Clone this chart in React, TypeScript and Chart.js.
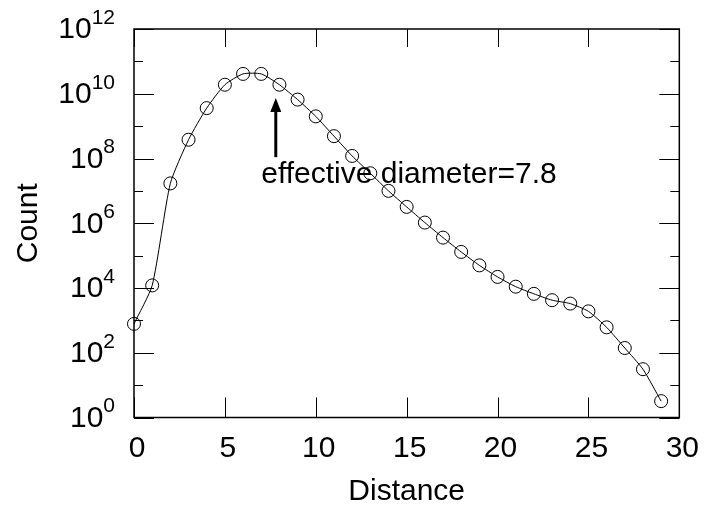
import React, { useEffect, useRef } from "react";
import { Chart, registerables } from "chart.js";

Chart.register(...registerables);

// ---- data ----
const distances = [0, 1, 2, 3, 4, 5, 6, 7, 8, 9, 10, 11, 12, 13, 14, 15, 16, 17, 18, 19, 20, 21, 22, 23, 24, 25, 26, 27, 28, 29];
const counts = [
  7.8e2, 1.2e4, 1.7e7, 3.8e8, 3.6e9, 1.9e10, 4.1e10, 4.1e10, 1.9e10, 6.6e9,
  2.0e9, 4.9e8, 1.2e8, 3.5e7, 1.0e7, 3.2e6, 1.05e6, 3.6e5, 1.3e5, 5.0e4,
  2.2e4, 1.1e4, 6.6e3, 4.2e3, 3.3e3, 1.9e3, 6.1e2, 1.4e2, 31, 3.2,
];
const xTicks = [0, 5, 10, 15, 20, 25, 30];
const yLabelExponents = [0, 2, 4, 6, 8, 10, 12];
const yAllExponents = [0, 1, 2, 3, 4, 5, 6, 7, 8, 9, 10, 11, 12];
const xTitle = "Distance";
const yTitle = "Count";
const annotationText = "effective diameter=7.8";
const arrowX = 7.8;
const arrowTip = 7.4e9;
const arrowTail = 1.1e8;
const textX = 7.0;
const textY = 1.75e7;

const FONT = "'Liberation Sans', Arial, Helvetica, sans-serif";
const FS = 30;
const SUP = 21;

const decorPlugin = {
  id: "decor",
  afterDraw(chart: any) {
    const { ctx, chartArea } = chart;
    const xs = chart.scales.x;
    const ys = chart.scales.y;
    ctx.save();
    ctx.strokeStyle = "#000";
    ctx.fillStyle = "#000";
    // frame
    ctx.lineWidth = 1.5;
    ctx.strokeRect(chartArea.left, chartArea.top, chartArea.right - chartArea.left, chartArea.bottom - chartArea.top);
    // y ticks (inside, both sides)
    ctx.lineWidth = 1;
    yAllExponents.forEach((e) => {
      const py = Math.round(ys.getPixelForValue(Math.pow(10, e))) + 0.5;
      const len = e % 2 === 0 ? 20 : 9;
      ctx.beginPath();
      ctx.moveTo(chartArea.left, py);
      ctx.lineTo(chartArea.left + len, py);
      ctx.moveTo(chartArea.right, py);
      ctx.lineTo(chartArea.right - len, py);
      ctx.stroke();
    });
    // x ticks (inside, top & bottom)
    xTicks.forEach((v) => {
      const px = Math.round(xs.getPixelForValue(v)) + 0.5;
      ctx.beginPath();
      ctx.moveTo(px, chartArea.bottom);
      ctx.lineTo(px, chartArea.bottom - 20);
      ctx.moveTo(px, chartArea.top);
      ctx.lineTo(px, chartArea.top + 18);
      ctx.stroke();
    });
    // y tick labels 10^n
    const rightEdge = chartArea.left - 19;
    yLabelExponents.forEach((e) => {
      const py = ys.getPixelForValue(Math.pow(10, e));
      const expStr = String(e);
      ctx.font = `${SUP}px ${FONT}`;
      const ew = ctx.measureText(expStr).width;
      ctx.textAlign = "left";
      ctx.textBaseline = "middle";
      ctx.fillText(expStr, rightEdge - ew, py - 11);
      ctx.font = `${FS}px ${FONT}`;
      ctx.textAlign = "right";
      ctx.fillText("10", rightEdge - ew, py + 1);
    });
    // annotation arrow
    const ax = xs.getPixelForValue(arrowX);
    const tipY = ys.getPixelForValue(arrowTip);
    const tailY = ys.getPixelForValue(arrowTail);
    ctx.lineWidth = 3;
    ctx.beginPath();
    ctx.moveTo(ax, tailY);
    ctx.lineTo(ax, tipY + 10);
    ctx.stroke();
    ctx.beginPath();
    ctx.moveTo(ax, tipY);
    ctx.lineTo(ax - 5.5, tipY + 14);
    ctx.lineTo(ax + 5.5, tipY + 14);
    ctx.closePath();
    ctx.fill();
    // annotation text
    ctx.font = `${FS}px ${FONT}`;
    ctx.textAlign = "left";
    ctx.textBaseline = "alphabetic";
    ctx.fillText(annotationText, xs.getPixelForValue(textX), ys.getPixelForValue(textY));
    ctx.restore();
  },
};

export default function App() {
  const ref = useRef<HTMLCanvasElement | null>(null);
  useEffect(() => {
    if (!ref.current) return;
    const chart = new Chart(ref.current, {
      type: "line",
      data: {
        datasets: [
          {
            data: distances.map((x, i) => ({ x, y: counts[i] })),
            borderColor: "#000",
            borderWidth: 1,
            pointRadius: 6.5,
            pointHoverRadius: 6.5,
            pointStyle: "circle",
            pointBackgroundColor: "rgba(0,0,0,0)",
            pointBorderColor: "#000",
            pointBorderWidth: 1,
            tension: 0.2,
            fill: false,
            clip: false as any,
          },
        ],
      },
      options: {
        animation: false,
        responsive: false,
        devicePixelRatio: 1,
        layout: { padding: { top: 29, right: 25, left: 0, bottom: 0 } },
        plugins: { legend: { display: false }, tooltip: { enabled: false } },
        scales: {
          x: {
            type: "linear",
            min: 0,
            max: 30,
            afterBuildTicks: (s: any) => {
              s.ticks = xTicks.map((v) => ({ value: v }));
            },
            afterFit: (s: any) => {
              s.height = 92.5;
            },
            grid: { display: false, drawTicks: false },
            border: { display: false },
            ticks: {
              color: "#000",
              font: { family: FONT, size: FS },
              padding: 13,
              labelOffset: 3,
              maxRotation: 0,
              autoSkip: false,
            },
            title: {
              display: true,
              text: xTitle,
              color: "#000",
              font: { family: FONT, size: FS },
              padding: { top: 0, bottom: 0 },
            },
          },
          y: {
            type: "logarithmic",
            min: 1,
            max: 1e12,
            afterFit: (s: any) => {
              s.width = 134;
            },
            grid: { display: false, drawTicks: false },
            border: { display: false },
            ticks: { display: false },
            title: {
              display: true,
              text: yTitle,
              color: "#000",
              font: { family: FONT, size: FS },
              padding: { top: 10.5, bottom: 0 },
            },
          },
        },
      },
      plugins: [decorPlugin],
    });
    return () => chart.destroy();
  }, []);
  return (
    <div style={{ position: "fixed", left: 0, top: 0, width: 709, height: 510, background: "#fff" }}>
      <canvas ref={ref} width={709} height={510} style={{ width: 709, height: 510, display: "block" }} />
    </div>
  );
}
